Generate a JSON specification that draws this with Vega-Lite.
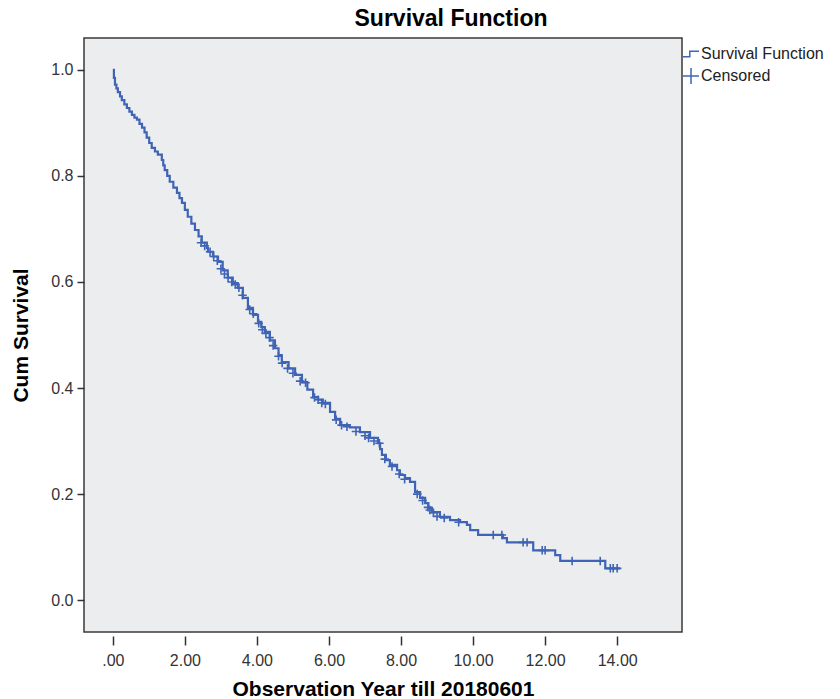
{
  "$schema": "https://vega.github.io/schema/vega-lite/v6.json",
  "width": 598,
  "height": 594,
  "autosize": {"type": "none"},
  "padding": {"left": 84, "top": 38, "right": 158, "bottom": 67},
  "title": {"text": "Survival Function", "fontSize": 23, "fontWeight": "bold", "font": "Liberation Sans", "color": "#000", "anchor": "middle", "dx": 68, "offset": 7},
  "datasets": {
    "curve": [
      {"t": 0, "S": 1.0}, {"t": 0.03, "S": 0.985}, {"t": 0.06, "S": 0.972}, {"t": 0.1, "S": 0.965},
      {"t": 0.14, "S": 0.958}, {"t": 0.2, "S": 0.95}, {"t": 0.25, "S": 0.943}, {"t": 0.32, "S": 0.935},
      {"t": 0.39, "S": 0.928}, {"t": 0.46, "S": 0.921}, {"t": 0.53, "S": 0.915}, {"t": 0.6, "S": 0.91},
      {"t": 0.67, "S": 0.906}, {"t": 0.74, "S": 0.898}, {"t": 0.81, "S": 0.891}, {"t": 0.88, "S": 0.882},
      {"t": 0.94, "S": 0.872}, {"t": 1.01, "S": 0.862}, {"t": 1.08, "S": 0.853}, {"t": 1.17, "S": 0.846},
      {"t": 1.25, "S": 0.84}, {"t": 1.36, "S": 0.83}, {"t": 1.4, "S": 0.82}, {"t": 1.44, "S": 0.811},
      {"t": 1.51, "S": 0.8}, {"t": 1.58, "S": 0.789}, {"t": 1.68, "S": 0.778}, {"t": 1.78, "S": 0.768},
      {"t": 1.85, "S": 0.758}, {"t": 1.92, "S": 0.749}, {"t": 2.0, "S": 0.736}, {"t": 2.08, "S": 0.723},
      {"t": 2.18, "S": 0.71}, {"t": 2.28, "S": 0.698}, {"t": 2.38, "S": 0.686}, {"t": 2.47, "S": 0.674},
      {"t": 2.61, "S": 0.664}, {"t": 2.64, "S": 0.657}, {"t": 2.78, "S": 0.648}, {"t": 2.92, "S": 0.638},
      {"t": 3.05, "S": 0.622}, {"t": 3.19, "S": 0.608}, {"t": 3.33, "S": 0.598}, {"t": 3.47, "S": 0.589},
      {"t": 3.61, "S": 0.57}, {"t": 3.75, "S": 0.551}, {"t": 3.89, "S": 0.538}, {"t": 4.03, "S": 0.525},
      {"t": 4.12, "S": 0.515}, {"t": 4.22, "S": 0.506}, {"t": 4.36, "S": 0.49}, {"t": 4.5, "S": 0.475},
      {"t": 4.6, "S": 0.462}, {"t": 4.69, "S": 0.449}, {"t": 4.88, "S": 0.437}, {"t": 5.06, "S": 0.425},
      {"t": 5.25, "S": 0.411}, {"t": 5.4, "S": 0.397}, {"t": 5.56, "S": 0.383}, {"t": 5.7, "S": 0.378},
      {"t": 5.83, "S": 0.372}, {"t": 6.03, "S": 0.355}, {"t": 6.17, "S": 0.342}, {"t": 6.31, "S": 0.33},
      {"t": 6.58, "S": 0.326}, {"t": 6.86, "S": 0.317}, {"t": 7.14, "S": 0.306}, {"t": 7.36, "S": 0.296},
      {"t": 7.42, "S": 0.285}, {"t": 7.47, "S": 0.274}, {"t": 7.58, "S": 0.264}, {"t": 7.69, "S": 0.255},
      {"t": 7.89, "S": 0.245}, {"t": 7.97, "S": 0.236}, {"t": 8.11, "S": 0.23}, {"t": 8.25, "S": 0.223},
      {"t": 8.39, "S": 0.204}, {"t": 8.53, "S": 0.193}, {"t": 8.67, "S": 0.183}, {"t": 8.76, "S": 0.174},
      {"t": 8.86, "S": 0.166}, {"t": 9.08, "S": 0.157}, {"t": 9.36, "S": 0.151}, {"t": 9.64, "S": 0.147},
      {"t": 9.83, "S": 0.142}, {"t": 9.92, "S": 0.132}, {"t": 10.14, "S": 0.123}, {"t": 10.83, "S": 0.117},
      {"t": 10.94, "S": 0.109}, {"t": 11.67, "S": 0.094}, {"t": 12.28, "S": 0.085}, {"t": 12.42, "S": 0.074},
      {"t": 13.67, "S": 0.06}, {"t": 14.08, "S": 0.06}
    ],
    "censored": [
      {"t": 2.45, "S": 0.674, "series": "Censored"}, {"t": 2.55, "S": 0.668, "series": "Censored"},
      {"t": 2.7, "S": 0.657, "series": "Censored"}, {"t": 2.8, "S": 0.648, "series": "Censored"},
      {"t": 2.9, "S": 0.64, "series": "Censored"}, {"t": 3.0, "S": 0.625, "series": "Censored"},
      {"t": 3.1, "S": 0.615, "series": "Censored"}, {"t": 3.2, "S": 0.608, "series": "Censored"},
      {"t": 3.3, "S": 0.6, "series": "Censored"}, {"t": 3.4, "S": 0.595, "series": "Censored"},
      {"t": 3.5, "S": 0.589, "series": "Censored"}, {"t": 3.6, "S": 0.575, "series": "Censored"},
      {"t": 3.8, "S": 0.548, "series": "Censored"}, {"t": 3.9, "S": 0.54, "series": "Censored"},
      {"t": 4.05, "S": 0.522, "series": "Censored"}, {"t": 4.15, "S": 0.51, "series": "Censored"},
      {"t": 4.25, "S": 0.503, "series": "Censored"}, {"t": 4.35, "S": 0.495, "series": "Censored"},
      {"t": 4.45, "S": 0.48, "series": "Censored"}, {"t": 4.6, "S": 0.46, "series": "Censored"},
      {"t": 4.7, "S": 0.447, "series": "Censored"}, {"t": 4.85, "S": 0.437, "series": "Censored"},
      {"t": 5.0, "S": 0.428, "series": "Censored"}, {"t": 5.2, "S": 0.413, "series": "Censored"},
      {"t": 5.35, "S": 0.41, "series": "Censored"}, {"t": 5.6, "S": 0.382, "series": "Censored"},
      {"t": 5.7, "S": 0.378, "series": "Censored"}, {"t": 5.8, "S": 0.372, "series": "Censored"},
      {"t": 5.9, "S": 0.37, "series": "Censored"}, {"t": 6.2, "S": 0.34, "series": "Censored"},
      {"t": 6.35, "S": 0.33, "series": "Censored"}, {"t": 6.5, "S": 0.327, "series": "Censored"},
      {"t": 6.75, "S": 0.318, "series": "Censored"}, {"t": 7.0, "S": 0.31, "series": "Censored"},
      {"t": 7.1, "S": 0.306, "series": "Censored"}, {"t": 7.25, "S": 0.3, "series": "Censored"},
      {"t": 7.4, "S": 0.296, "series": "Censored"}, {"t": 7.55, "S": 0.266, "series": "Censored"},
      {"t": 7.75, "S": 0.252, "series": "Censored"}, {"t": 7.95, "S": 0.238, "series": "Censored"},
      {"t": 8.1, "S": 0.228, "series": "Censored"}, {"t": 8.45, "S": 0.2, "series": "Censored"},
      {"t": 8.6, "S": 0.188, "series": "Censored"}, {"t": 8.75, "S": 0.175, "series": "Censored"},
      {"t": 8.8, "S": 0.17, "series": "Censored"}, {"t": 8.9, "S": 0.165, "series": "Censored"},
      {"t": 9.0, "S": 0.158, "series": "Censored"}, {"t": 9.2, "S": 0.155, "series": "Censored"},
      {"t": 9.6, "S": 0.147, "series": "Censored"}, {"t": 10.56, "S": 0.123, "series": "Censored"},
      {"t": 10.8, "S": 0.123, "series": "Censored"}, {"t": 11.39, "S": 0.109, "series": "Censored"},
      {"t": 11.5, "S": 0.109, "series": "Censored"}, {"t": 11.92, "S": 0.094, "series": "Censored"},
      {"t": 12.0, "S": 0.094, "series": "Censored"}, {"t": 12.75, "S": 0.074, "series": "Censored"},
      {"t": 13.53, "S": 0.074, "series": "Censored"}, {"t": 13.81, "S": 0.06, "series": "Censored"},
      {"t": 13.89, "S": 0.06, "series": "Censored"}, {"t": 14.0, "S": 0.06, "series": "Censored"}
    ]
  },
  "layer": [
    {
      "data": {"name": "curve"},
      "mark": {"type": "line", "interpolate": "step-after", "color": "#3F64B6", "strokeWidth": 2.2},
      "encoding": {
        "x": {"field": "t", "type": "quantitative", "scale": {"domain": [-0.8, 15.8], "nice": false, "zero": false},
          "axis": {"values": [0, 2, 4, 6, 8, 10, 12, 14], "labelExpr": "datum.value == 0 ? '.00' : format(datum.value, '.2f')",
            "title": "Observation Year till 20180601"}},
        "y": {"field": "S", "type": "quantitative", "scale": {"domain": [-0.06, 1.06], "nice": false, "zero": false},
          "axis": {"values": [0, 0.2, 0.4, 0.6, 0.8, 1.0], "format": ".1f", "title": "Cum Survival"}}
      }
    },
    {
      "data": {"name": "censored"},
      "mark": {"type": "point", "filled": false, "strokeWidth": 1.6, "size": 72, "opacity": 1},
      "encoding": {
        "x": {"field": "t", "type": "quantitative"},
        "y": {"field": "S", "type": "quantitative"},
        "color": {"value": "#3F64B6"},
        "shape": {"field": "series", "type": "nominal",
          "scale": {"domain": ["Survival Function", "Censored"], "range": ["M-1,0.35H-0.15V-0.35H1", "M-1,0H1M0,-1V1"]},
          "legend": {"title": null, "orient": "none", "legendX": 598, "legendY": 7, "padding": 0,
            "symbolSize": 256, "symbolStrokeColor": "#3F64B6", "symbolFillColor": "transparent", "symbolStrokeWidth": 1.5,
            "labelFontSize": 16, "labelFont": "Liberation Sans", "labelColor": "#222", "rowPadding": 3, "labelOffset": 1}}
      }
    }
  ],
  "config": {
    "font": "Liberation Sans",
    "view": {"fill": "#ECEDEE", "stroke": "#3A3A3A", "strokeWidth": 1.5},
    "axis": {"grid": false, "domain": false, "tickColor": "#333", "tickWidth": 1.5, "labelFontSize": 16, "labelColor": "#333",
      "titleFontSize": 21, "titleFontWeight": "bold", "titleColor": "#000", "labelFont": "Liberation Sans", "titleFont": "Liberation Sans"},
    "axisX": {"tickSize": 9, "offset": 4, "labelPadding": 7, "titlePadding": 10},
    "axisY": {"tickSize": 7, "labelPadding": 4, "titlePadding": 19}
  }
}
